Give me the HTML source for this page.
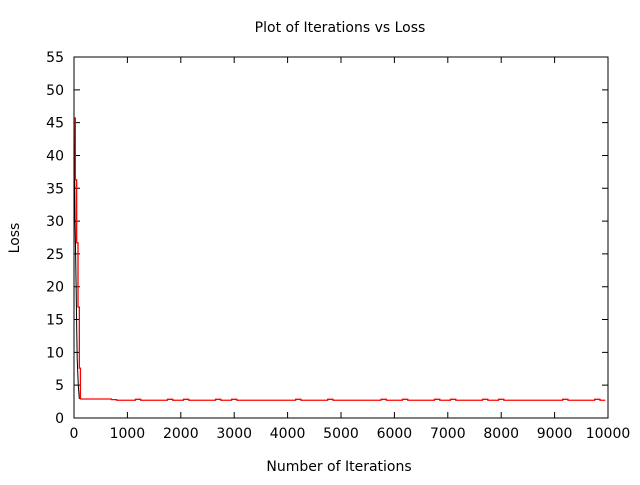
<!DOCTYPE html>
<html><head><meta charset="utf-8"><style>
body{margin:0;background:#fff}
svg text{font-family:"DejaVu Sans","Liberation Sans",sans-serif;font-size:14px;fill:#000}
</style></head><body>
<svg id="c" width="640" height="480">
<rect width="640" height="480" fill="#fff"/>
<text x="340" y="32" text-anchor="middle">Plot of Iterations vs Loss</text>
<text x="339" y="471" text-anchor="middle">Number of Iterations</text>
<text transform="translate(19,238) rotate(-90)" text-anchor="middle">Loss</text>
<g id="ax"></g>
<g id="marks"></g>
<rect x="74" y="57" width="534" height="361" fill="none" stroke="#000" stroke-width="1"/>
</svg>
<script>
const xTicks=[0,1000,2000,3000,4000,5000,6000,7000,8000,9000,10000];
const yTicks=[0,5,10,15,20,25,30,35,40,45,50,55];
const blackIter=[0,5,10,15,20,30,40,50,60,80,100];
const blackLoss=[46,44,40,35,30,25,20,14,9,5,2.9];
const redIter=[0,25,50,75,100,120,700,800,900,1150,1250,1750,1850,2050,2150,2650,2750,2950,3050,4150,4250,4750,4850,5750,5850,6150,6250,6750,6850,7050,7150,7650,7750,7950,8050,9150,9250,9750,9850,9950];
const redLoss=[45.7,36.3,26.7,16.9,7.6,2.9,2.8,2.7,2.7,2.85,2.7,2.85,2.7,2.85,2.7,2.85,2.7,2.85,2.7,2.85,2.7,2.85,2.7,2.85,2.7,2.85,2.7,2.85,2.7,2.85,2.7,2.85,2.7,2.85,2.7,2.85,2.7,2.85,2.7,2.7];
const X0=74,X1=608,Y0=418,Y1=57;
const sx=v=>X0+(v/10000)*(X1-X0);
const sy=v=>Y0-(v/55)*(Y0-Y1);
const NS="http://www.w3.org/2000/svg";
const ax=document.getElementById('ax'),mk=document.getElementById('marks');
function el(t,a,p){const e=document.createElementNS(NS,t);for(const k in a)e.setAttribute(k,a[k]);p.appendChild(e);return e;}
xTicks.forEach(v=>{const x=sx(v);
 const t=el('path',{d:`M${x},${Y0}v-6M${x},${Y1}v6`,stroke:'#000','stroke-width':1},ax);
 
 
 const l=el('text',{x:x,y:Y0+20,'text-anchor':'middle'},ax);l.textContent=v;
 
 });
yTicks.forEach(v=>{const y=sy(v);
 const t=el('path',{d:`M${X0},${y}h6M${X1},${y}h-6`,stroke:'#000','stroke-width':1},ax);
 
 
 const l=el('text',{x:X0-10,y:y+5,'text-anchor':'end'},ax);l.textContent=v;
 
 });
let d='';blackIter.forEach((v,i)=>{d+=(i?'L':'M')+sx(v)+','+sy(blackLoss[i]);});
const b=el('path',{d:d,fill:'none',stroke:'#000','stroke-width':1},mk);


d='';redIter.forEach((v,i)=>{const x=sx(v),y=sy(redLoss[i]);
 if(!i)d+='M'+x+','+y;else d+='H'+x+'V'+y;});
const r=el('path',{d:d,fill:'none',stroke:'#f00','stroke-width':1.3},mk);


</script>
</body></html>
